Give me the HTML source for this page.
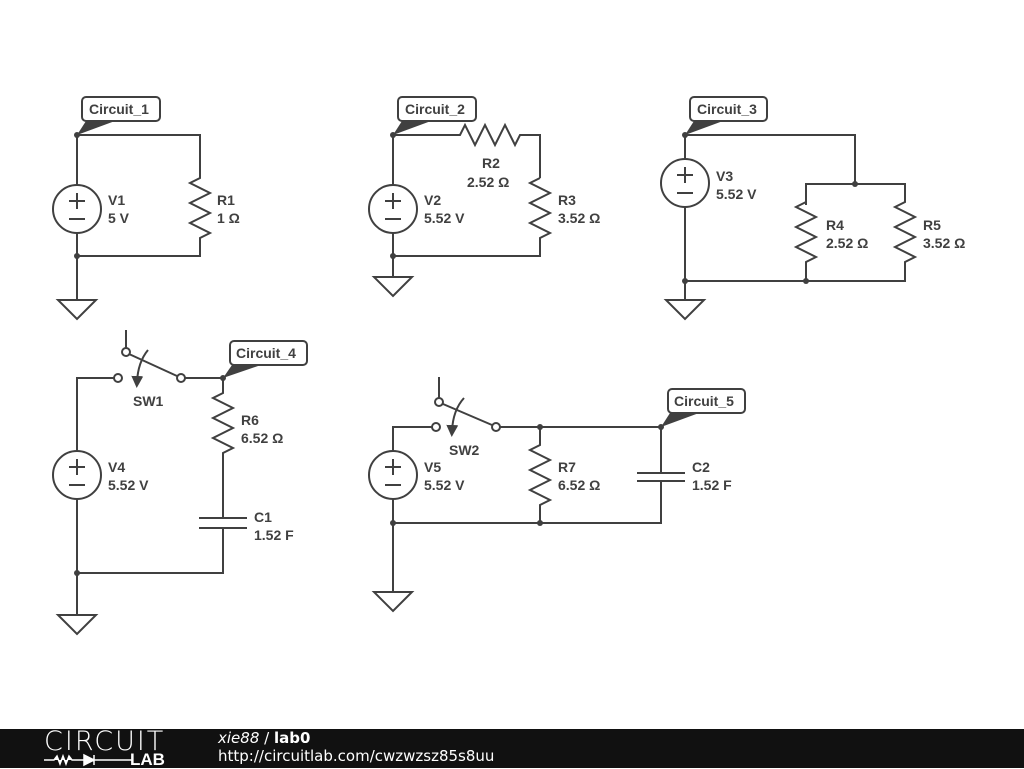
<!DOCTYPE html>
<html><head><meta charset="utf-8"><style>
html,body{margin:0;padding:0;width:1024px;height:768px;overflow:hidden;background:#fff}
svg{position:absolute;left:0;top:0}
text{font-family:"Liberation Sans",sans-serif;font-size:14px;font-weight:bold;fill:#404040}
.w{stroke:#404040;stroke-width:2;fill:none}
.lb{fill:#fff;stroke:#404040;stroke-width:2}
#foot{position:absolute;left:0;top:729px;width:1024px;height:39px;background:#111;color:#fff;font-family:"DejaVu Sans","Liberation Sans",sans-serif}
</style></head><body>
<svg width="1024" height="768" viewBox="0 0 1024 768">
<defs>
<marker id="ah" markerWidth="6" markerHeight="6" refX="3" refY="3" orient="auto"><path d="M0,0 L6,3 L0,6 z" fill="#404040"/></marker>
</defs>
<g class="w">
<!-- Circuit 1 -->
<path d="M77,185 V135 H200 V178 l-10,5 l20,10 l-20,10 l20,10 l-20,10 l20,10 l-10,5 V256 H77 V233"/>
<path d="M77,256 V300"/>
<circle cx="77" cy="209" r="24"/>
<path d="M69,201 h16 M77,193 v16 M69,219 h16"/>
<path d="M58,300 H96 L77,319 Z"/>
<!-- Circuit 2 -->
<path d="M393,185 V135 H460 l5,-10 l10,20 l10,-20 l10,20 l10,-20 l10,20 l5,-10 H540 V178"/>
<path d="M540,178 l-10,5 l20,10 l-20,10 l20,10 l-20,10 l20,10 l-10,5 V256 H393 V233"/>
<path d="M393,256 V277"/>
<circle cx="393" cy="209" r="24"/>
<path d="M385,201 h16 M393,193 v16 M385,219 h16"/>
<path d="M374,277 H412 L393,296 Z"/>
<!-- Circuit 3 -->
<path d="M685,159 V135 H855 V184 M806,205 V184 H905 V202 l-10,5 l20,10 l-20,10 l20,10 l-20,10 l20,10 l-10,5 V281 H685 V207"/>
<path d="M806,202 l-10,5 l20,10 l-20,10 l20,10 l-20,10 l20,10 l-10,5 V281"/>
<path d="M685,281 V300"/>
<circle cx="685" cy="183" r="24"/>
<path d="M677,175 h16 M685,167 v16 M677,193 h16"/>
<path d="M666,300 H704 L685,319 Z"/>
<!-- Circuit 4 -->
<path d="M77,451 V378 H114 M185,378 H223 V393 l-10,5 l20,10 l-20,10 l20,10 l-20,10 l20,10 l-10,5 V518"/>
<path d="M199,518 H247 M199,528 H247 M223,528 V573 H77 V499"/>
<path d="M77,573 V615"/>
<circle cx="77" cy="475" r="24"/>
<path d="M69,467 h16 M77,459 v16 M69,485 h16"/>
<path d="M58,615 H96 L77,634 Z"/>
<circle cx="118" cy="378" r="4"/><circle cx="181" cy="378" r="4"/><circle cx="126" cy="352" r="4"/>
<path d="M126,330 V348 M129,354 L177,376"/>
<path d="M148,350 Q138,362 137,382" marker-end="url(#ah)"/>
<!-- Circuit 5 -->
<path d="M393,451 V427 H432 M500,427 H661 V473 M637,473 H685 M637,481 H685 M661,481 V523 H393 V499"/>
<path d="M540,427 V445 l-10,5 l20,10 l-20,10 l20,10 l-20,10 l20,10 l-10,5 V523"/>
<path d="M393,523 V592"/>
<circle cx="393" cy="475" r="24"/>
<path d="M385,467 h16 M393,459 v16 M385,485 h16"/>
<path d="M374,592 H412 L393,611 Z"/>
<circle cx="436" cy="427" r="4"/><circle cx="496" cy="427" r="4"/><circle cx="439" cy="402" r="4"/>
<path d="M439,377 V398 M443,404 L492,425"/>
<path d="M464,398 Q453,410 452,431" marker-end="url(#ah)"/>
</g>
<g fill="#404040">
<circle cx="77" cy="135" r="3"/><circle cx="77" cy="256" r="3"/>
<circle cx="393" cy="135" r="3"/><circle cx="393" cy="256" r="3"/>
<circle cx="685" cy="135" r="3"/><circle cx="855" cy="184" r="3"/><circle cx="685" cy="281" r="3"/><circle cx="806" cy="281" r="3"/>
<circle cx="223" cy="378" r="3"/><circle cx="77" cy="573" r="3"/>
<circle cx="540" cy="427" r="3"/><circle cx="661" cy="427" r="3"/><circle cx="393" cy="523" r="3"/><circle cx="540" cy="523" r="3"/>
<path d="M77,135 L86,121 L115,121 Z"/>
<path d="M393,135 L402,121 L431,121 Z"/>
<path d="M685,135 L694,121 L723,121 Z"/>
<path d="M223,378 L232,365 L261,365 Z"/>
<path d="M661,427 L670,413 L699,413 Z"/>
</g>
<rect class="lb" x="82" y="97" width="78" height="24" rx="4"/><text x="89" y="114">Circuit_1</text>
<rect class="lb" x="398" y="97" width="78" height="24" rx="4"/><text x="405" y="114">Circuit_2</text>
<rect class="lb" x="690" y="97" width="77" height="24" rx="4"/><text x="697" y="114">Circuit_3</text>
<rect class="lb" x="230" y="341" width="77" height="24" rx="4"/><text x="236" y="358">Circuit_4</text>
<rect class="lb" x="668" y="389" width="77" height="24" rx="4"/><text x="674" y="406">Circuit_5</text>
<text x="108" y="205">V1</text><text x="108" y="223">5 V</text>
<text x="217" y="205">R1</text><text x="217" y="223">1 Ω</text>
<text x="424" y="205">V2</text><text x="424" y="223">5.52 V</text>
<text x="482" y="168">R2</text><text x="467" y="187">2.52 Ω</text>
<text x="558" y="205">R3</text><text x="558" y="223">3.52 Ω</text>
<text x="716" y="181">V3</text><text x="716" y="199">5.52 V</text>
<text x="826" y="230">R4</text><text x="826" y="248">2.52 Ω</text>
<text x="923" y="230">R5</text><text x="923" y="248">3.52 Ω</text>
<text x="133" y="406">SW1</text>
<text x="241" y="425">R6</text><text x="241" y="443">6.52 Ω</text>
<text x="108" y="472">V4</text><text x="108" y="490">5.52 V</text>
<text x="254" y="522">C1</text><text x="254" y="540">1.52 F</text>
<text x="449" y="455">SW2</text>
<text x="424" y="472">V5</text><text x="424" y="490">5.52 V</text>
<text x="558" y="472">R7</text><text x="558" y="490">6.52 Ω</text>
<text x="692" y="472">C2</text><text x="692" y="490">1.52 F</text>
</svg>
<div id="foot">
<div style="position:absolute;left:44px;top:-1px;font-size:27px;letter-spacing:2px;font-weight:200;line-height:28px">CIRCUIT</div>
<svg style="position:absolute;left:44px;top:24px" width="90" height="14" viewBox="0 0 90 14"><path d="M0,7 H10 l3,-4 l3,8 l3,-8 l3,8 l3,-8 l3,4 H40 M40,2 V12 L50,7 Z M50,2 V12 M50,7 H88" stroke="#fff" stroke-width="1.5" fill="#fff"/></svg>
<div style="position:absolute;left:130px;top:23px;font-size:17px;font-weight:bold;line-height:16px;font-family:'Liberation Sans',sans-serif">LAB</div>
<div style="position:absolute;left:218px;top:1px;font-size:15px;line-height:17px"><i>xie88</i> / <b>lab0</b></div>
<div style="position:absolute;left:218px;top:19px;font-size:15px;line-height:17px">http://circuitlab.com/cwzwzsz85s8uu</div>
</div>
</body></html>
